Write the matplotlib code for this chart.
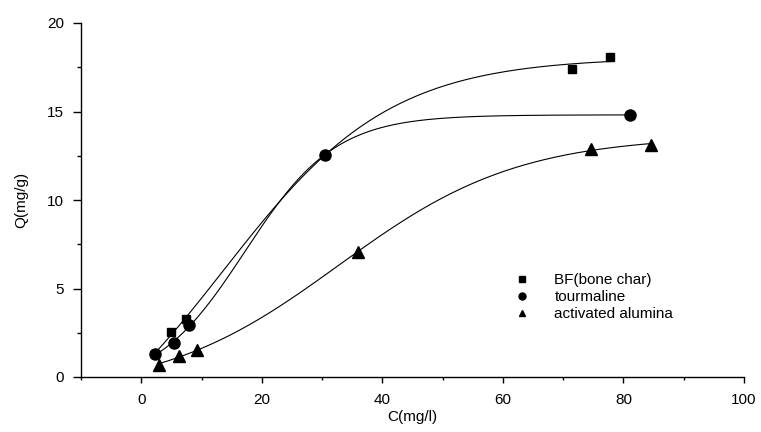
import numpy as np
import matplotlib
matplotlib.use("Agg")
import matplotlib.pyplot as plt
from matplotlib.ticker import MultipleLocator
from matplotlib.lines import Line2D

plt.rcParams['font.family'] = ['Liberation Sans', 'DejaVu Sans']

# ---- data ----
bf_x = [2.3, 4.9, 7.5, 30.4, 71.5, 77.8]
bf_y = [1.3, 2.55, 3.25, 12.55, 17.4, 18.1]

tm_x = [2.3, 5.4, 8.0, 30.4, 81.1]
tm_y = [1.28, 1.9, 2.95, 12.55, 14.8]

aa_x = [2.9, 6.3, 9.2, 35.9, 74.6, 84.6]
aa_y = [0.65, 1.2, 1.55, 7.05, 12.9, 13.1]

labels = ["BF(bone char)", "tourmaline", "activated alumina"]
markers = ["s", "o", "^"]
msizes = [6.0, 8.0, 8.0]


def boltzmann_fit(x, y):
    """Least-squares Boltzmann fit: grid over x0/dx, linear solve for A1/A2."""
    x = np.asarray(x, float)
    y = np.asarray(y, float)
    x0s = np.arange(0.0, 60.0, 0.2)
    dxs = np.arange(2.0, 30.0, 0.1)
    X0, DX = np.meshgrid(x0s, dxs, indexing="ij")
    f = 1.0 / (1.0 + np.exp((x[None, None, :] - X0[..., None]) / DX[..., None]))
    g = 1.0 - f
    sff = (f * f).sum(-1); sgg = (g * g).sum(-1); sfg = (f * g).sum(-1)
    sfy = (f * y).sum(-1); sgy = (g * y).sum(-1)
    det = sff * sgg - sfg ** 2
    det = np.where(np.abs(det) < 1e-12, np.nan, det)
    A1 = (sfy * sgg - sgy * sfg) / det
    A2 = (sgy * sff - sfy * sfg) / det
    pred = A1[..., None] * f + A2[..., None] * g
    sse = ((pred - y) ** 2).sum(-1)
    sse = np.where(np.isnan(sse), np.inf, sse)
    i, j = np.unravel_index(np.argmin(sse), sse.shape)
    return A1[i, j], A2[i, j], X0[i, j], DX[i, j]


def boltz(x, a1, a2, x0, dx):
    return a2 + (a1 - a2) / (1.0 + np.exp((x - x0) / dx))


fig = plt.figure(figsize=(7.61, 4.32), dpi=100)
ax = fig.add_axes([81 / 761, (432 - 377) / 432, (744 - 81) / 761, (377 - 23) / 432])

for k, (xs, ys, m, ms) in enumerate(zip([bf_x, tm_x, aa_x], [bf_y, tm_y, aa_y],
                                        markers, msizes)):
    p = boltzmann_fit(xs, ys)
    xx = np.linspace(min(xs), max(xs), 300)
    ax.plot(xx, boltz(xx, *p), color="black", lw=0.8, zorder=2)
    ax.plot(xs, ys, linestyle="none", marker=m, color="black",
            markersize=ms, zorder=3 + k)

ax.set_xlim(-10, 100)
ax.set_ylim(0, 20)
ax.xaxis.set_major_locator(MultipleLocator(20))
ax.xaxis.set_minor_locator(MultipleLocator(10))
ax.yaxis.set_major_locator(MultipleLocator(5))
ax.yaxis.set_minor_locator(MultipleLocator(2.5))
ax.set_xticks([0, 20, 40, 60, 80, 100])

for s in ["top", "right"]:
    ax.spines[s].set_visible(False)
for s in ["left", "bottom"]:
    ax.spines[s].set_linewidth(1.0)

ax.tick_params(which="major", direction="out", width=1.0, labelsize=11)
ax.tick_params(axis="x", which="major", length=4.5, pad=7)
ax.tick_params(axis="y", which="major", length=6, pad=6)
ax.tick_params(axis="x", which="minor", direction="out", length=2.2, width=1.0)
ax.tick_params(axis="y", which="minor", direction="out", length=2.7, width=1.0)

ax.set_xlabel("C(mg/l)", fontsize=11, labelpad=2)
ax.set_ylabel("Q(mg/g)", fontsize=11, labelpad=14)

handles = [Line2D([], [], linestyle="none", marker=m, color="black",
                  markersize=5) for m in markers]
ax.legend(handles, labels, loc="upper left", frameon=False,
          bbox_to_anchor=(0.645, 0.31), fontsize=11, handlelength=1.0,
          handletextpad=1.6, labelspacing=0.2, borderaxespad=0)

fig.savefig("out.png", dpi=100)
